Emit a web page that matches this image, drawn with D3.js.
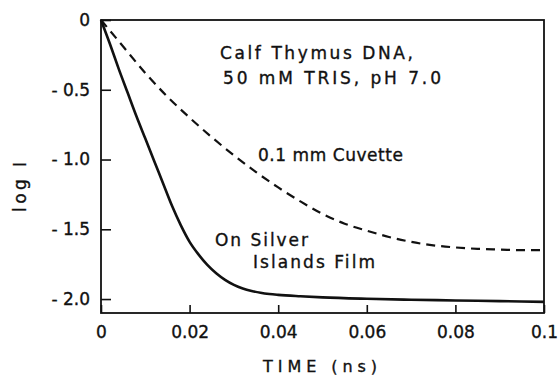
<!DOCTYPE html>
<html><head><meta charset="utf-8">
<script src="https://cdn.jsdelivr.net/npm/d3@7"></script>
<style>
html,body{margin:0;padding:0;background:#fff;}
svg text{font-family:"DejaVu Sans",sans-serif;fill:#111;stroke:#111;stroke-width:0.35px;}
</style></head>
<body>
<svg id="chart" width="559" height="378"></svg>
<script>
// ---- data ----
const solidTime = [0,0.002,0.004,0.006,0.008,0.010,0.012,0.014,0.016,0.018,0.020,0.022,0.024,0.026,0.028,0.030,0.032,0.034,0.036,0.038,0.040,0.045,0.050,0.060,0.070,0.080,0.090,0.100];
const solidLogI = [0,-0.17,-0.35,-0.52,-0.69,-0.85,-1.01,-1.17,-1.33,-1.47,-1.59,-1.68,-1.755,-1.815,-1.862,-1.898,-1.924,-1.942,-1.955,-1.964,-1.970,-1.980,-1.988,-1.998,-2.005,-2.01,-2.015,-2.02];
const dashTime = [0,0.005,0.010,0.015,0.020,0.025,0.030,0.035,0.040,0.045,0.050,0.055,0.060,0.065,0.070,0.075,0.080,0.085,0.090,0.095,0.100];
const dashLogI = [0,-0.19,-0.38,-0.55,-0.70,-0.84,-0.97,-1.09,-1.20,-1.30,-1.39,-1.46,-1.51,-1.555,-1.59,-1.615,-1.63,-1.64,-1.645,-1.65,-1.65];
const xTicks = [0,0.02,0.04,0.06,0.08,0.1];
const xTickLabels = ["0","0.02","0.04","0.06","0.08","0.1"];
const yTicks = [0,-0.5,-1.0,-1.5,-2.0];
const yTickLabels = ["0","- 0.5","- 1.0","- 1.5","- 2.0"];

const W = 559, H = 378;
const m = {left:101, right:15, top:20, bottom:65};
const svg = d3.select("#chart");
const x = d3.scaleLinear().domain([0,0.1]).range([m.left, W-m.right]);
const y = d3.scaleLinear().domain([-2.1,0]).range([H-m.bottom, m.top]);

// axes with inward ticks
const xAxis = d3.axisBottom(x).tickValues(xTicks).tickSizeInner(-8).tickSizeOuter(0).tickPadding(10)
  .tickFormat((d,i)=>xTickLabels[i]);
const gx = svg.append("g").attr("transform",`translate(0,${H-m.bottom})`).call(xAxis);
gx.select(".domain").remove();
gx.selectAll("line").attr("stroke","#111").attr("stroke-width",1.6);
gx.selectAll("text").attr("font-size",17).attr("fill","#111").attr("dy","0.9em");

const yAxis = d3.axisLeft(y).tickValues(yTicks).tickSizeInner(-10).tickSizeOuter(0).tickPadding(11)
  .tickFormat((d,i)=>yTickLabels[i]);
const gy = svg.append("g").attr("transform",`translate(${m.left},0)`).call(yAxis);
gy.select(".domain").remove();
gy.selectAll("line").attr("stroke","#111").attr("stroke-width",1.6);
gy.selectAll("text").attr("font-size",17).attr("fill","#111").attr("font-family","DejaVu Sans");

// frame
svg.append("rect").attr("x",m.left).attr("y",m.top)
  .attr("width",W-m.left-m.right).attr("height",H-m.top-m.bottom)
  .attr("fill","none").attr("stroke","#111").attr("stroke-width",1.8);

const line = d3.line().x(d=>x(d[0])).y(d=>y(d[1])).curve(d3.curveMonotoneX);
svg.append("path").datum(dashTime.map((t,i)=>[t,dashLogI[i]]))
  .attr("d",line).attr("fill","none").attr("stroke","#111").attr("stroke-width",2.2)
  .attr("stroke-dasharray","9,6");
svg.append("path").datum(solidTime.map((t,i)=>[t,solidLogI[i]]))
  .attr("d",line).attr("fill","none").attr("stroke","#111").attr("stroke-width",2.6);

// axis titles
svg.append("text").attr("x",320).attr("y",372).attr("text-anchor","middle")
  .attr("font-size",16).attr("textLength",114).attr("lengthAdjust","spacing")
  .text("TIME (ns)");
svg.append("text").attr("transform","translate(26,187) rotate(-90)").attr("text-anchor","middle")
  .attr("font-size",17).attr("textLength",50).attr("lengthAdjust","spacing").text("log I");

// annotations
const ann = [
  {t:"Calf Thymus DNA,", x:220, y:59, w:193},
  {t:"50 mM TRIS, pH 7.0", x:223, y:84, w:218},
  {t:"0.1 mm Cuvette", x:258, y:161, w:145},
  {t:"On Silver", x:215, y:246, w:93},
  {t:"Islands Film", x:253, y:268, w:122}
];
svg.selectAll("text.ann").data(ann).enter().append("text").attr("class","ann")
  .attr("x",d=>d.x).attr("y",d=>d.y).attr("font-size",17)
  .attr("textLength",d=>d.w).attr("lengthAdjust","spacing").text(d=>d.t);
</script>
</body></html>
